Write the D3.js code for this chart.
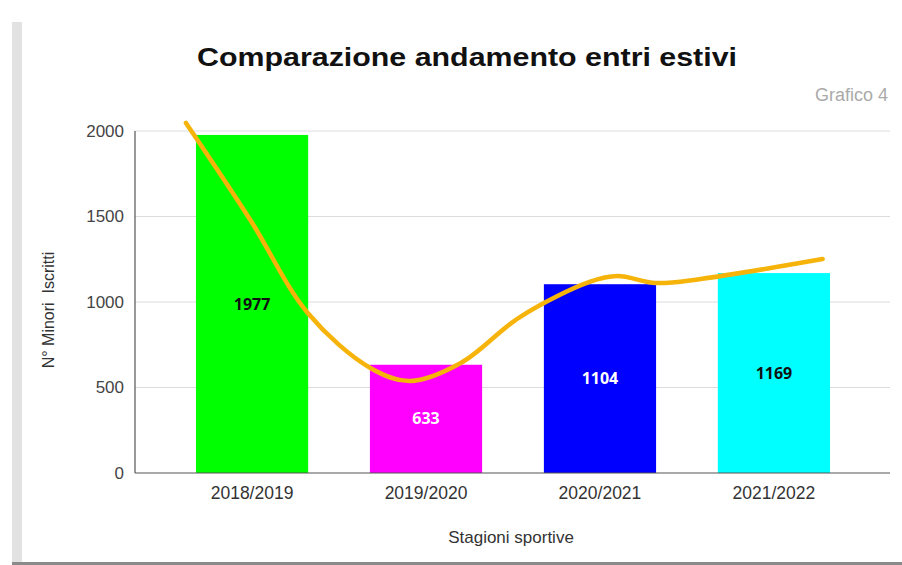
<!DOCTYPE html>
<html>
<head>
<meta charset="utf-8">
<script src="https://cdn.jsdelivr.net/npm/d3@7"></script>
<style>
  body { margin: 0; background: #fff; }
  svg { display: block; font-family: "Liberation Sans", Arial, sans-serif; }
</style>
</head>
<body>
<div id="chart"></div>
<script>
// data
const seasons = ["2018/2019", "2019/2020", "2020/2021", "2021/2022"];
const iscritti = [1977, 633, 1104, 1169];
const barColors = ["#00ff00", "#ff00ff", "#0000ff", "#00ffff"];
const labelColors = ["#111", "#fff", "#fff", "#111"];
const yTicks = [0, 500, 1000, 1500, 2000];

// smooth trend line: position in category units (0 = first bar centre) and value
const trendPos = [-0.38, -0.01, 0.32, 0.68, 0.91, 1.2, 1.54, 1.94, 2.1, 2.32, 2.58, 3.28];
const trendVal = [2047, 1480, 936, 614, 538, 643, 912, 1117, 1152, 1111, 1135, 1251];

const W = 902, H = 565;
const plot = { left: 135, right: 890, top: 131, bottom: 473 };

const svg = d3.select("#chart").append("svg")
    .attr("width", W)
    .attr("height", H);

// frame of the screenshot
svg.append("rect").attr("x", 12).attr("y", 22).attr("width", 10).attr("height", H - 22).attr("fill", "#e2e2e2");
svg.append("rect").attr("x", 12).attr("y", H - 3).attr("width", W - 12).attr("height", 3).attr("fill", "#8a8a8a");

// scales
const x = d3.scaleBand()
    .domain(seasons)
    .range([165, 861])
    .paddingInner(0.355)
    .paddingOuter(0.178);

const y = d3.scaleLinear()
    .domain([0, 2000])
    .range([plot.bottom, plot.top]);

const step = x.step();
const x0 = x(seasons[0]) + x.bandwidth() / 2;
const xTrend = d3.scaleLinear().domain([0, 1]).range([x0, x0 + step]);

// gridlines
svg.append("g")
    .selectAll("line")
    .data(yTicks.filter(d => d > 0))
    .enter().append("line")
    .attr("x1", plot.left)
    .attr("x2", plot.right)
    .attr("y1", d => y(d))
    .attr("y2", d => y(d))
    .attr("stroke", "#dcdcdc")
    .attr("stroke-width", 1);

// bars
svg.append("g")
    .selectAll("rect")
    .data(seasons)
    .enter().append("rect")
    .attr("x", d => x(d))
    .attr("width", x.bandwidth())
    .attr("y", (d, i) => y(iscritti[i]))
    .attr("height", (d, i) => y(0) - y(iscritti[i]))
    .attr("fill", (d, i) => barColors[i]);

// value labels in the middle of each bar
svg.append("g")
    .selectAll("text")
    .data(seasons)
    .enter().append("text")
    .attr("x", d => x(d) + x.bandwidth() / 2)
    .attr("y", (d, i) => (y(iscritti[i]) + y(0)) / 2)
    .attr("dy", "0.35em")
    .attr("text-anchor", "middle")
    .style("font-family", "'Open Sans', sans-serif")
    .style("font-weight", "bold")
    .style("font-size", "16px")
    .attr("fill", (d, i) => labelColors[i])
    .text((d, i) => iscritti[i]);

// trend curve
const line = d3.line()
    .x(d => xTrend(d[0]))
    .y(d => y(d[1]))
    .curve(d3.curveCatmullRom.alpha(0.5));

svg.append("path")
    .datum(trendPos.map((p, i) => [p, trendVal[i]]))
    .attr("d", line)
    .attr("fill", "none")
    .attr("stroke", "#f6b40a")
    .attr("stroke-width", 4.5)
    .attr("stroke-linecap", "round");

// axes lines
svg.append("line")
    .attr("x1", plot.left).attr("x2", plot.left)
    .attr("y1", plot.top).attr("y2", plot.bottom)
    .attr("stroke", "#555").attr("stroke-width", 1.2);
svg.append("line")
    .attr("x1", plot.left).attr("x2", plot.right)
    .attr("y1", plot.bottom).attr("y2", plot.bottom)
    .attr("stroke", "#555").attr("stroke-width", 1.2);

// y tick labels
svg.append("g")
    .selectAll("text")
    .data(yTicks)
    .enter().append("text")
    .attr("x", 124)
    .attr("y", d => y(d))
    .attr("dy", "0.35em")
    .attr("text-anchor", "end")
    .attr("fill", "#444")
    .style("font-size", "17px")
    .text(d => d);

// x tick labels
svg.append("g")
    .selectAll("text")
    .data(seasons)
    .enter().append("text")
    .attr("x", d => x(d) + x.bandwidth() / 2)
    .attr("y", 499)
    .attr("text-anchor", "middle")
    .attr("fill", "#333")
    .style("font-size", "17.5px")
    .text(d => d);

// titles
svg.append("text")
    .attr("x", 467).attr("y", 66)
    .attr("text-anchor", "middle")
    .attr("fill", "#111")
    .style("font-size", "26px")
    .style("font-weight", "bold")
    .attr("textLength", 540)
    .attr("lengthAdjust", "spacingAndGlyphs")
    .text("Comparazione andamento entri estivi");

svg.append("text")
    .attr("x", 888).attr("y", 101)
    .attr("text-anchor", "end")
    .attr("fill", "#aaa")
    .style("font-size", "18px")
    .text("Grafico 4");

svg.append("text")
    .attr("x", 511).attr("y", 543)
    .attr("text-anchor", "middle")
    .attr("fill", "#333")
    .style("font-size", "17px")
    .text("Stagioni sportive");

svg.append("text")
    .attr("transform", "translate(54,310) rotate(-90)")
    .attr("text-anchor", "middle")
    .attr("fill", "#333")
    .style("font-size", "16px")
    .style("white-space", "pre")
    .text("N° Minori  Iscritti");
</script>
</body>
</html>
